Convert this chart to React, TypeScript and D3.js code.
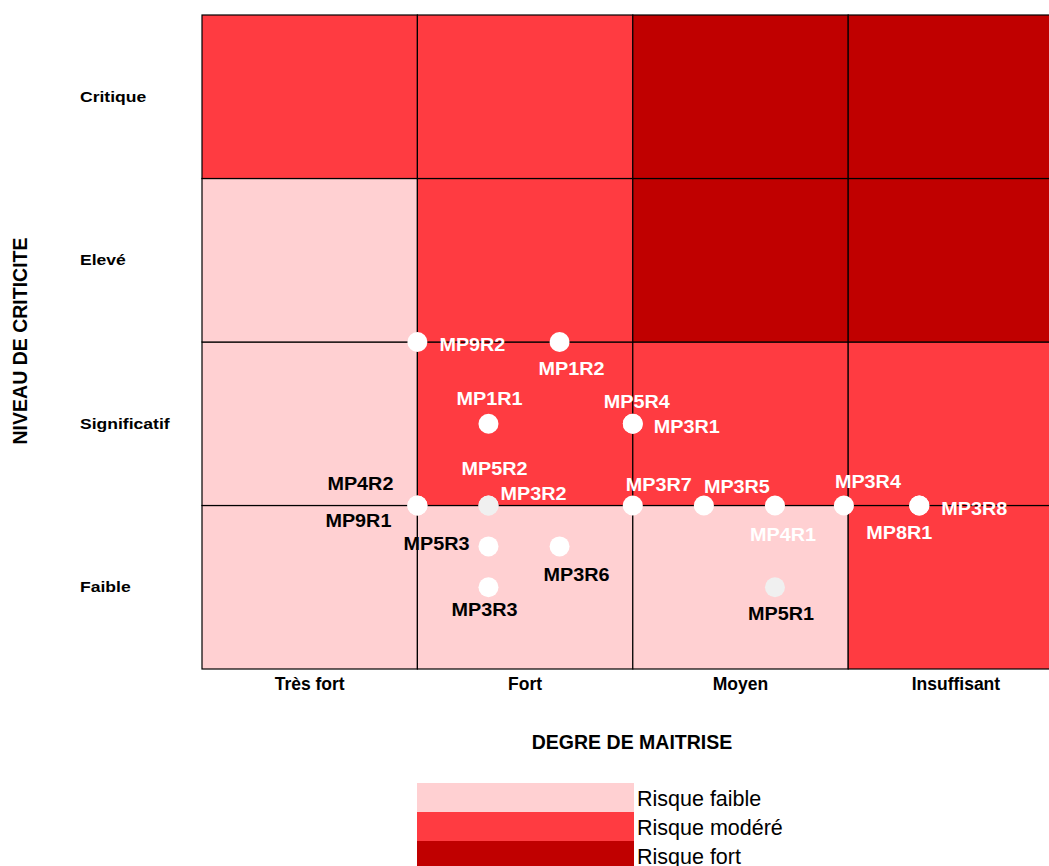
import React from "react";
import * as d3 from "d3";

const xCategories = ["Très fort", "Fort", "Moyen", "Insuffisant"];
const yCategories = ["Faible", "Significatif", "Elevé", "Critique"];
// risk level per cell: rows from Faible (bottom) to Critique (top), columns Très fort..Insuffisant
const riskRows = [
  ["faible", "faible", "faible", "modere"],
  ["faible", "modere", "modere", "modere"],
  ["faible", "modere", "fort", "fort"],
  ["modere", "modere", "fort", "fort"],
];
const legendItems = [
  { key: "faible", label: "Risque faible" },
  { key: "modere", label: "Risque modéré" },
  { key: "fort", label: "Risque fort" },
];
const pointNames = ["MP9R2", "MP1R2", "MP1R1", "MP5R4", "MP3R1", "MP5R2", "MP3R2", "MP4R2", "MP9R1", "MP5R3", "MP3R6", "MP3R3", "MP3R7", "MP3R5", "MP4R1", "MP5R1", "MP3R4", "MP8R1", "MP3R8"];
const pointX = [1, 1.66, 1.33, 2, 2, 1.33, 1.33, 1, 1, 1.33, 1.66, 1.33, 2, 2.33, 2.66, 2.66, 2.98, 3.33, 3.33];
const pointY = [2, 2, 1.5, 1.5, 1.5, 1, 1, 1, 1, 0.75, 0.75, 0.5, 1, 1, 1, 0.5, 1, 1, 1];

const colors: Record<string, string> = { faible: "#FFD0D2", modere: "#FF3B41", fort: "#C00000" };

// label placement (style only)
const labelStyle: Record<string, { dx: number; dy: number; anchor: string; fill: string; dot?: string }> = {
  MP9R2: { dx: 22, dy: 9, anchor: "start", fill: "#fff" },
  MP1R2: { dx: 12, dy: 33, anchor: "middle", fill: "#fff" },
  MP1R1: { dx: 1, dy: -19, anchor: "middle", fill: "#fff" },
  MP5R4: { dx: 4, dy: -16, anchor: "middle", fill: "#fff" },
  MP3R1: { dx: 21, dy: 9, anchor: "start", fill: "#fff" },
  MP5R2: { dx: 6, dy: -31, anchor: "middle", fill: "#fff", dot: "#F0F0F0" },
  MP3R2: { dx: 12, dy: -6, anchor: "start", fill: "#fff", dot: "#F0F0F0" },
  MP4R2: { dx: -24, dy: -16, anchor: "end", fill: "#000" },
  MP9R1: { dx: -26, dy: 21, anchor: "end", fill: "#000" },
  MP5R3: { dx: -19, dy: 4, anchor: "end", fill: "#000" },
  MP3R6: { dx: 17, dy: 35, anchor: "middle", fill: "#000" },
  MP3R3: { dx: -4, dy: 29, anchor: "middle", fill: "#000" },
  MP3R7: { dx: 26, dy: -15, anchor: "middle", fill: "#fff" },
  MP3R5: { dx: 33, dy: -13, anchor: "middle", fill: "#fff" },
  MP4R1: { dx: 8, dy: 35, anchor: "middle", fill: "#fff" },
  MP5R1: { dx: 6, dy: 33, anchor: "middle", fill: "#000", dot: "#F0F0F0" },
  MP3R4: { dx: 24, dy: -18, anchor: "middle", fill: "#fff" },
  MP8R1: { dx: -20, dy: 33, anchor: "middle", fill: "#fff" },
  MP3R8: { dx: 22, dy: 9, anchor: "start", fill: "#fff" },
};

const FONT = "'Liberation Sans', Arial, Helvetica, sans-serif";

export default function App() {
  const left = 202;
  const top = 15;
  const colW = 215.4;
  const rowH = 163.5;
  const x = d3.scaleLinear().domain([0, 4]).range([left, left + 4 * colW]);
  const y = d3.scaleLinear().domain([0, 4]).range([top + 4 * rowH, top]);
  const xBand = d3.scaleBand<string>().domain(xCategories).range([left, left + 4 * colW]);
  const yBand = d3.scaleBand<string>().domain(yCategories.slice().reverse()).range([top, top + 4 * rowH]);

  const points = pointNames.map((n, i) => ({ name: n, x: pointX[i], y: pointY[i] }));

  return (
    <svg width={1049} height={866} style={{ position: "absolute", left: 0, top: 0, fontFamily: FONT }}>
      {riskRows.map((row, ri) =>
        row.map((lvl, ci) => (
          <rect
            key={`${ri}-${ci}`}
            x={xBand(xCategories[ci])}
            y={yBand(yCategories[ri])}
            width={xBand.bandwidth()}
            height={yBand.bandwidth()}
            fill={colors[lvl]}
            stroke="#000"
            strokeWidth={1.2}
          />
        ))
      )}
      {yCategories.map((c) => (
        <text
          key={c}
          transform={`translate(80,${(yBand(c) as number) + yBand.bandwidth() / 2 + 5}) scale(1.17,1)`}
          fontSize={15}
          fontWeight="bold"
          fill="#000"
        >
          {c}
        </text>
      ))}
      {xCategories.map((c) => (
        <text key={c} x={(xBand(c) as number) + xBand.bandwidth() / 2} y={690} fontSize={17.5} fontWeight="bold" textAnchor="middle" fill="#000">
          {c}
        </text>
      ))}
      <text x={632} y={749} fontSize={19.5} fontWeight="bold" textAnchor="middle">DEGRE DE MAITRISE</text>
      <text transform={`translate(27,341) rotate(-90)`} fontSize={19.5} fontWeight="bold" textAnchor="middle">NIVEAU DE CRITICITE</text>
      {points.map((p) => {
        const s = labelStyle[p.name];
        return <circle key={"c" + p.name} cx={x(p.x)} cy={y(p.y)} r={10} fill={s.dot || "#fff"} />;
      })}
      {points.map((p) => {
        const s = labelStyle[p.name];
        return (
          <text
            key={"t" + p.name}
            transform={`translate(${x(p.x) + s.dx},${y(p.y) + s.dy}) scale(1.1,1)`}
            fontSize={18}
            fontWeight="bold"
            textAnchor={s.anchor as any}
            fill={s.fill}
          >
            {p.name}
          </text>
        );
      })}
      {legendItems.map((l, i) => (
        <g key={l.key}>
          <rect x={417} y={783 + i * 29} width={217} height={29} fill={colors[l.key]} />
          <text x={637} y={806 + i * 29} fontSize={21.5} fill="#000">{l.label}</text>
        </g>
      ))}
    </svg>
  );
}
